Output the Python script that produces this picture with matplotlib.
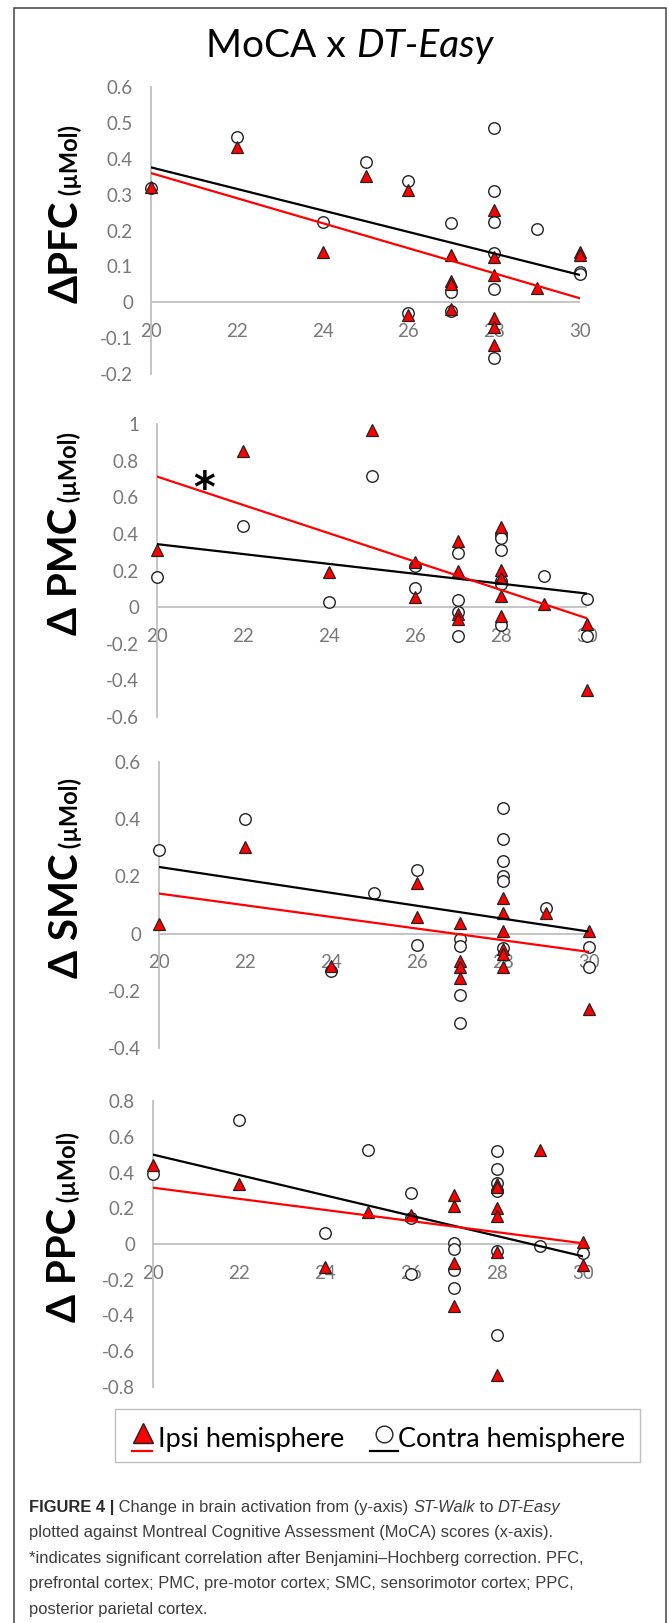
import numpy as np
import matplotlib
matplotlib.use('Agg')
from matplotlib import pyplot as plt, font_manager

# ---- data (MoCA score vs change in HbO2, µMol) ----
pfc_ipsi_x = [20, 22, 24, 25, 26, 26, 27, 27, 27, 27, 28, 28, 28, 28, 28, 28, 29, 30, 30]
pfc_ipsi_y = [0.32, 0.434, 0.141, 0.352, 0.313, -0.035, 0.132, 0.06, 0.05, -0.018,
              0.258, 0.125, 0.075, -0.045, -0.07, -0.118, 0.04, 0.14, 0.132]
pfc_contra_x = [20, 22, 24, 25, 26, 26, 27, 27, 27, 28, 28, 28, 28, 28, 28, 29, 30, 30]
pfc_contra_y = [0.318, 0.462, 0.225, 0.39, 0.337, -0.03, 0.222, 0.028, -0.025,
                0.486, 0.311, 0.225, 0.137, 0.036, -0.155, 0.205, 0.085, 0.08]

pmc_ipsi_x = [20, 22, 24, 25, 26, 26, 27, 27, 27, 27, 28, 28, 28, 28, 28, 29, 30, 30]
pmc_ipsi_y = [0.313, 0.852, 0.19, 0.967, 0.247, 0.056, 0.359, 0.195, -0.04, -0.065,
              0.437, 0.205, 0.158, 0.061, -0.047, 0.019, -0.093, -0.45]
pmc_contra_x = [20, 22, 24, 25, 26, 26, 27, 27, 27, 27, 28, 28, 28, 28, 28, 28, 29, 30, 30]
pmc_contra_y = [0.162, 0.443, 0.028, 0.716, 0.223, 0.102, 0.298, 0.037, -0.028, -0.158,
                0.396, 0.38, 0.313, 0.14, 0.128, -0.097, 0.171, 0.047, -0.158]

smc_ipsi_x = [20, 22, 24, 26, 26, 27, 27, 27, 27, 28, 28, 28, 28, 28, 28, 29, 30, 30]
smc_ipsi_y = [0.035, 0.302, -0.114, 0.177, 0.058, 0.038, -0.095, -0.116, -0.155,
              0.126, 0.073, 0.009, -0.055, -0.07, -0.116, 0.073, 0.009, -0.263]
smc_contra_x = [20, 22, 24, 25, 26, 26, 27, 27, 27, 27, 28, 28, 28, 28, 28, 28, 29, 30, 30]
smc_contra_y = [0.293, 0.4, -0.13, 0.143, 0.221, -0.041, -0.019, -0.042, -0.215, -0.314,
                0.438, 0.331, 0.253, 0.203, 0.184, -0.05, 0.091, -0.047, -0.116]

ppc_ipsi_x = [20, 22, 24, 25, 26, 27, 27, 27, 27, 28, 28, 28, 28, 28, 28, 29, 30, 30]
ppc_ipsi_y = [0.444, 0.337, -0.13, 0.18, 0.163, 0.272, 0.213, -0.106, -0.346,
              0.333, 0.32, 0.204, 0.157, -0.043, -0.731, 0.528, 0.013, -0.117]
ppc_contra_x = [20, 22, 24, 25, 26, 26, 26, 27, 27, 27, 27, 28, 28, 28, 28, 28, 28, 29, 30]
ppc_contra_y = [0.394, 0.694, 0.061, 0.528, 0.287, 0.148, -0.167, 0.006, -0.028, -0.148, -0.244,
                0.519, 0.417, 0.339, 0.296, -0.041, -0.509, -0.013, -0.052]

# linear trend lines, value at MoCA = 20 and 30
trend_x = [20, 30]
pfc_ipsi_trend = [0.36, 0.011]
pfc_contra_trend = [0.376, 0.076]
pmc_ipsi_trend = [0.713, -0.061]
pmc_contra_trend = [0.344, 0.074]
smc_ipsi_trend = [0.14, -0.064]
smc_contra_trend = [0.233, 0.007]
ppc_ipsi_trend = [0.315, 0.004]
ppc_contra_trend = [0.5, -0.069]

x_ticks = [20, 22, 24, 26, 28, 30]
pfc_yticks = [0.6, 0.5, 0.4, 0.3, 0.2, 0.1, 0, -0.1, -0.2]
pmc_yticks = [1, 0.8, 0.6, 0.4, 0.2, 0, -0.2, -0.4, -0.6]
smc_yticks = [0.6, 0.4, 0.2, 0, -0.2, -0.4]
ppc_yticks = [0.8, 0.6, 0.4, 0.2, 0, -0.2, -0.4, -0.6, -0.8]

title_parts = [('MoCA x ', 'normal'), ('DT-Easy', 'italic')]
legend_labels = ['Ipsi hemisphere', 'Contra hemisphere']
caption_lines = [
    [('FIGURE 4 |', 'bold', 'normal'), (' Change in brain activation from (y-axis) ', 'normal', 'normal'),
     ('ST-Walk', 'normal', 'italic'), (' to ', 'normal', 'normal'), ('DT-Easy', 'normal', 'italic')],
    [('plotted against Montreal Cognitive Assessment (MoCA) scores (x-axis).', 'normal', 'normal')],
    [('*indicates significant correlation after Benjamini\u2013Hochberg correction. PFC,', 'normal', 'normal')],
    [('prefrontal cortex; PMC, pre-motor cortex; SMC, sensorimotor cortex; PPC,', 'normal', 'normal')],
    [('posterior parietal cortex.', 'normal', 'normal')],
]

# ---- figure ----
W, H = 669, 1623
chart_font = 'Lato'
cap_font = 'Liberation Sans'
axis_grey = '#bfbfbf'
tick_grey = '#787878'
red = '#ff0000'

fig = plt.figure(figsize=(W / 100, H / 100), dpi=100)
renderer = fig.canvas.get_renderer()

# overlay in pixel coordinates for border, title, labels, legend, caption
ov = fig.add_axes([0, 0, 1, 1])
ov.set_xlim(0, W)
ov.set_ylim(H, 0)
ov.axis('off')
ov.plot([14, 14, 666, 666], [H + 5, 8, 8, H + 5], color='#444444', lw=1.1, solid_joinstyle='miter')


def box(x0, y0, x1, y1):
    return [x0 / W, 1 - y1 / H, (x1 - x0) / W, (y1 - y0) / H]


def hruns(x, y, parts, **kw):
    # draw text pieces left to right on a common baseline
    for txt, style in parts:
        t = ov.text(x, y, txt, ha='left', va='baseline', style=style, **kw)
        x += t.get_window_extent(renderer).width
    return x


def run_width(parts, **kw):
    w = 0
    for txt, style in parts:
        t = ov.text(0, 0, txt, style=style, **kw)
        w += t.get_window_extent(renderer).width
        t.remove()
    return w


# title
tw = run_width(title_parts, fontsize=28, family=chart_font)
hruns(350 - tw / 2, 57, title_parts, fontsize=28, family=chart_font, color='black')

panels = [
    dict(ix=pfc_ipsi_x, iy=pfc_ipsi_y, cx=pfc_contra_x, cy=pfc_contra_y,
         it=pfc_ipsi_trend, ct=pfc_contra_trend, yt=pfc_yticks,
         bx=(151, 87, 580, 374), name='\u0394PFC', lab=(78, 303)),
    dict(ix=pmc_ipsi_x, iy=pmc_ipsi_y, cx=pmc_contra_x, cy=pmc_contra_y,
         it=pmc_ipsi_trend, ct=pmc_contra_trend, yt=pmc_yticks,
         bx=(157, 424, 587, 717), name='\u0394 PMC', lab=(77, 635)),
    dict(ix=smc_ipsi_x, iy=smc_ipsi_y, cx=smc_contra_x, cy=smc_contra_y,
         it=smc_ipsi_trend, ct=smc_contra_trend, yt=smc_yticks,
         bx=(159, 762, 589, 1048), name='\u0394 SMC', lab=(78, 978)),
    dict(ix=ppc_ipsi_x, iy=ppc_ipsi_y, cx=ppc_contra_x, cy=ppc_contra_y,
         it=ppc_ipsi_trend, ct=ppc_contra_trend, yt=ppc_yticks,
         bx=(153, 1101, 583, 1387), name='\u0394 PPC', lab=(76, 1322)),
]

for i, p in enumerate(panels):
    ax = fig.add_axes(box(*p['bx']))
    ax.patch.set_alpha(0)
    ax.set_xlim(20, 30)
    ax.set_ylim(min(p['yt']), max(p['yt']))
    for s in ['top', 'right', 'bottom']:
        ax.spines[s].set_visible(False)
    ax.spines['left'].set_color(axis_grey)
    ax.spines['left'].set_linewidth(1.3)
    ax.axhline(0, color=axis_grey, lw=1.3, zorder=1)
    ax.set_xticks([])
    ax.set_yticks(p['yt'])
    ax.set_yticklabels([f'{v:g}' for v in p['yt']], family=chart_font)
    ax.tick_params(axis='y', length=0, pad=13, labelsize=13.5, labelcolor=tick_grey)
    for xt in x_ticks:
        ax.annotate(str(xt), (xt, 0), xytext=(0, -21), textcoords='offset points',
                    ha='center', va='center', fontsize=13.5, color=tick_grey,
                    family=chart_font, zorder=1)
    ax.plot(p['cx'], p['cy'], 'o', ms=8.3, mfc='white', mec='#222222', mew=1.0,
            clip_on=False, zorder=3)
    ax.plot(p['ix'], p['iy'], '^', ms=9, mfc=red, mec='#222222', mew=0.9,
            clip_on=False, zorder=4)
    ax.plot(trend_x, p['ct'], color='black', lw=1.6, zorder=5)
    ax.plot(trend_x, p['it'], color=red, lw=1.6, zorder=5)
    if i == 1:
        ax.text(21.1, 0.64, '*', fontsize=30, weight='bold', ha='center', va='center',
                family='DejaVu Sans', color='black', zorder=6)

    # rotated y label: big name + smaller unit
    lx, ly = p['lab']
    t = ov.text(lx, ly, p['name'], rotation=90, rotation_mode='anchor', ha='left',
                va='baseline', fontsize=29, weight='bold', family=chart_font)
    ly -= t.get_window_extent(renderer).height
    ov.text(lx, ly, ' (\u00b5Mol)', rotation=90, rotation_mode='anchor', ha='left',
            va='baseline', fontsize=17, weight='bold', family=chart_font)

# legend box
ov.add_patch(plt.Rectangle((115, 1409), 525, 53, fill=True, fc='white', ec=axis_grey, lw=1.0))
ov.plot([143], [1433], '^', ms=15, mfc=red, mec='#222222', mew=1.0)
ov.plot([132, 152], [1451, 1451], color=red, lw=1.6)
ov.text(158, 1447, legend_labels[0], fontsize=19.5, family=chart_font, ha='left', va='baseline')
ov.plot([384], [1434], 'o', ms=12, mfc='white', mec='#222222', mew=1.0)
ov.plot([370, 398], [1451, 1451], color='black', lw=1.6)
ov.text(398, 1447, legend_labels[1], fontsize=19.5, family=chart_font, ha='left', va='baseline')

# caption
for k, line in enumerate(caption_lines):
    x = 29
    for txt, weight, style in line:
        col = '#2b2b2b' if weight == 'bold' else '#3c3c3c'
        t = ov.text(x, 1512 + 25.4 * k, txt, ha='left', va='baseline', fontsize=11.9,
                    family=cap_font, weight=weight, style=style, color=col)
        x += t.get_window_extent(renderer).width

fig.savefig('out.png', dpi=100)
